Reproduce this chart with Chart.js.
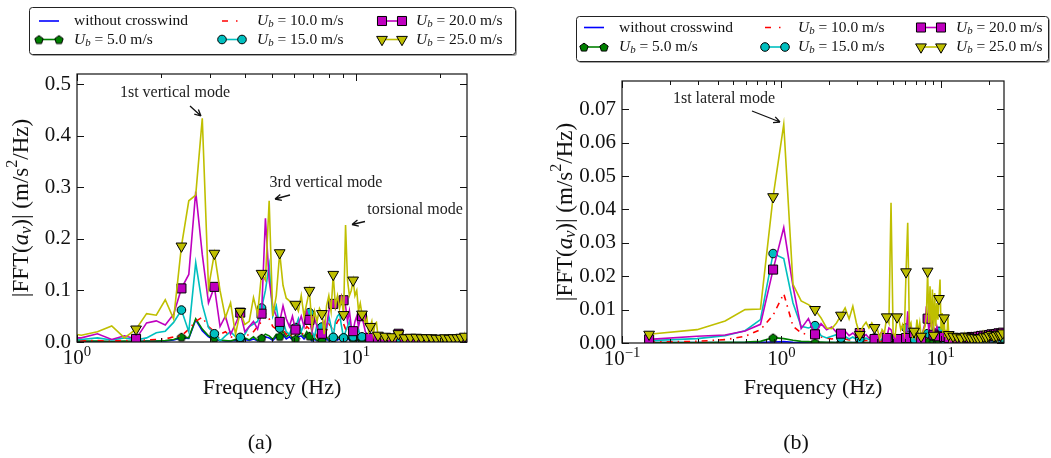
<!DOCTYPE html>
<html>
<head>
<meta charset="utf-8">
<title>FFT of car-body acceleration</title>
<script src="https://cdn.jsdelivr.net/npm/chart.js@4.4.1/dist/chart.umd.min.js"></script>
<style>
  html, body { margin: 0; padding: 0; background: #fff; }
  #wrap { position: relative; width: 1051px; height: 458px; }
  #wrap canvas { position: absolute; left: 0; top: 0; }
</style>
</head>
<body>
<div id="wrap">
  <canvas id="vert" width="1051" height="458"></canvas>
  <canvas id="lat" width="1051" height="458"></canvas>
</div>
<script>
// frequency resolution of the spectra (Hz); value k of a series sits at bin firstBin + k
const DF = 0.148;

const WIND_SPEEDS = [null, 5.0, 10.0, 15.0, 20.0, 25.0];

// (a) vertical acceleration, bins 6..169
const VERT_FIRST_BIN = 6;
const VERT_NONE = [
  0.001,0.001,0.001,0.001,0.001,0.001,0.002,0.002,0.002,0.004,
  0.008,0.007,0.043,0.022,0.010,0.006,0.003,0.002,0.002,0.003,
  0.002,0.005,0.003,0.006,0.002,0.005,0.010,0.008,0.003,0.010,
  0.007,0.014,0.006,0.010,0.005,0.004,0.010,0.012,0.006,0.014,
  0.008,0.002,0.005,0.002,0.004,0.001,0.004,0.006,0.002,0.006,
  0.006,0.008,0.004,0.006,0.003,0.006,0.005,0.006,0.004,0.008,
  0.004,0.005,0.003,0.002,0.004,0.002,0.002,0.001,0.002,0.001,
  0.001,0.001,0.002,0.001,0.001,0.001,0.001,0.002,0.001,0.001,
  0.001,0.001,0.001,0.001,0.002,0.001,0.001,0.001,0.001,0.001,
  0.001,0.002,0.001,0.001,0.001,0.001,0.001,0.001,0.002,0.001,
  0.001,0.001,0.001,0.001,0.001,0.002,0.001,0.001,0.001,0.001,
  0.001,0.001,0.001,0.002,0.001,0.001,0.001,0.001,0.001,0.001,
  0.002,0.001,0.001,0.001,0.001,0.001,0.001,0.002,0.001,0.001,
  0.001,0.001,0.001,0.001,0.002,0.001,0.001,0.001,0.001,0.001,
  0.001,0.002,0.001,0.001,0.001,0.001,0.001,0.001,0.002,0.001,
  0.001,0.001,0.001,0.001,0.001,0.002,0.001,0.001,0.001,0.001,
  0.001,0.001,0.002,0.001
];
const VERT_U5 = [
  0.002,0.002,0.002,0.001,0.002,0.001,0.002,0.002,0.003,0.005,
  0.010,0.008,0.045,0.025,0.012,0.008,0.004,0.003,0.002,0.005,
  0.004,0.008,0.004,0.010,0.003,0.008,0.015,0.012,0.005,0.015,
  0.011,0.020,0.010,0.015,0.008,0.006,0.014,0.018,0.010,0.020,
  0.012,0.004,0.008,0.003,0.006,0.002,0.006,0.010,0.004,0.009,
  0.009,0.012,0.007,0.010,0.005,0.009,0.008,0.010,0.006,0.012,
  0.006,0.008,0.005,0.004,0.006,0.003,0.004,0.002,0.003,0.002,
  0.002,0.001,0.002,0.001,0.001,0.002,0.001,0.001,0.001,0.001,
  0.001,0.001,0.002,0.001,0.001,0.001,0.001,0.001,0.002,0.001,
  0.001,0.001,0.001,0.001,0.001,0.002,0.001,0.001,0.001,0.001,
  0.001,0.001,0.001,0.002,0.001,0.001,0.001,0.001,0.001,0.001,
  0.002,0.001,0.001,0.001,0.001,0.001,0.001,0.001,0.002,0.001,
  0.001,0.001,0.001,0.001,0.001,0.001,0.002,0.001,0.001,0.001,
  0.001,0.001,0.001,0.001,0.002,0.001,0.001,0.001,0.001,0.001,
  0.001,0.002,0.001,0.001,0.001,0.001,0.001,0.001,0.001,0.002,
  0.001,0.001,0.001,0.001,0.001,0.001,0.002,0.001,0.001,0.001,
  0.001,0.001,0.001,0.002
];
const VERT_U10 = [
  0.002,0.002,0.003,0.002,0.003,0.003,0.004,0.005,0.006,0.010,
  0.012,0.025,0.040,0.048,0.030,0.020,0.015,0.020,0.010,0.008,
  0.006,0.010,0.015,0.020,0.030,0.040,0.055,0.045,0.030,0.025,
  0.030,0.025,0.015,0.020,0.010,0.015,0.020,0.012,0.020,0.030,
  0.025,0.015,0.020,0.010,0.030,0.025,0.015,0.020,0.035,0.030,
  0.020,0.030,0.040,0.045,0.050,0.035,0.025,0.030,0.020,0.025,
  0.015,0.010,0.015,0.008,0.012,0.006,0.005,0.004,0.003,0.004,
  0.003,0.002,0.003,0.002,0.002,0.002,0.001,0.002,0.001,0.002,
  0.002,0.001,0.001,0.002,0.001,0.001,0.002,0.001,0.001,0.001,
  0.002,0.001,0.001,0.001,0.002,0.001,0.001,0.001,0.001,0.002,
  0.001,0.001,0.001,0.002,0.001,0.001,0.001,0.001,0.002,0.001,
  0.001,0.001,0.002,0.001,0.001,0.001,0.001,0.002,0.001,0.001,
  0.001,0.002,0.001,0.001,0.001,0.001,0.002,0.001,0.001,0.001,
  0.002,0.001,0.001,0.001,0.001,0.002,0.001,0.001,0.001,0.002,
  0.001,0.001,0.001,0.001,0.002,0.001,0.001,0.001,0.002,0.001,
  0.001,0.001,0.001,0.002,0.001,0.001,0.001,0.002,0.001,0.001,
  0.001,0.002,0.001,0.001
];
const VERT_U15 = [
  0.005,0.005,0.008,0.004,0.008,0.004,0.008,0.018,0.021,0.038,
  0.062,0.020,0.154,0.073,0.028,0.016,0.002,0.012,0.020,0.010,
  0.009,0.015,0.030,0.035,0.040,0.066,0.100,0.149,0.050,0.070,
  0.027,0.040,0.020,0.015,0.030,0.028,0.045,0.020,0.035,0.040,
  0.057,0.020,0.010,0.035,0.020,0.029,0.010,0.025,0.050,0.030,
  0.009,0.040,0.050,0.055,0.030,0.008,0.020,0.030,0.040,0.020,
  0.010,0.020,0.015,0.025,0.010,0.010,0.008,0.012,0.006,0.008,
  0.006,0.004,0.003,0.004,0.002,0.003,0.002,0.003,0.002,0.002,
  0.003,0.002,0.002,0.001,0.002,0.003,0.002,0.001,0.002,0.002,
  0.003,0.002,0.001,0.002,0.001,0.002,0.001,0.002,0.001,0.002,
  0.002,0.001,0.002,0.001,0.001,0.002,0.001,0.002,0.001,0.001,
  0.002,0.001,0.001,0.002,0.001,0.002,0.001,0.001,0.002,0.001,
  0.002,0.001,0.001,0.002,0.001,0.001,0.002,0.001,0.001,0.002,
  0.001,0.001,0.002,0.001,0.001,0.002,0.001,0.001,0.002,0.001,
  0.001,0.002,0.001,0.001,0.002,0.001,0.001,0.002,0.001,0.001,
  0.002,0.001,0.001,0.002,0.001,0.001,0.002,0.001,0.001,0.002,
  0.001,0.001,0.002,0.001
];
const VERT_U20 = [
  0.008,0.008,0.016,0.005,0.012,0.006,0.037,0.041,0.033,0.054,
  0.104,0.131,0.292,0.170,0.076,0.107,0.030,0.050,0.015,0.035,
  0.057,0.020,0.030,0.040,0.025,0.055,0.240,0.120,0.070,0.050,
  0.039,0.070,0.045,0.030,0.050,0.024,0.035,0.050,0.030,0.060,
  0.043,0.020,0.045,0.030,0.015,0.016,0.040,0.030,0.060,0.075,
  0.074,0.065,0.085,0.070,0.090,0.081,0.070,0.040,0.060,0.030,
  0.021,0.040,0.050,0.030,0.045,0.050,0.035,0.020,0.015,0.010,
  0.008,0.006,0.005,0.007,0.004,0.005,0.003,0.004,0.003,0.005,
  0.006,0.003,0.004,0.002,0.003,0.006,0.004,0.003,0.005,0.008,
  0.016,0.006,0.004,0.003,0.002,0.005,0.003,0.002,0.003,0.002,
  0.005,0.002,0.003,0.002,0.003,0.004,0.002,0.003,0.002,0.003,
  0.005,0.002,0.003,0.002,0.002,0.004,0.002,0.003,0.002,0.003,
  0.004,0.002,0.003,0.002,0.002,0.004,0.002,0.003,0.002,0.003,
  0.003,0.003,0.002,0.003,0.002,0.004,0.002,0.002,0.003,0.002,
  0.004,0.002,0.003,0.002,0.002,0.005,0.002,0.003,0.002,0.003,
  0.004,0.002,0.003,0.002,0.003,0.005,0.002,0.003,0.002,0.003,
  0.005,0.003,0.002,0.003
];
const VERT_U25 = [
  0.020,0.013,0.020,0.031,0.008,0.025,0.055,0.052,0.082,0.045,
  0.186,0.274,0.285,0.434,0.105,0.172,0.100,0.047,0.076,0.015,
  0.059,0.034,0.040,0.086,0.054,0.133,0.120,0.274,0.050,0.090,
  0.173,0.110,0.085,0.080,0.070,0.073,0.060,0.090,0.050,0.075,
  0.100,0.030,0.060,0.040,0.065,0.055,0.015,0.070,0.090,0.060,
  0.131,0.070,0.090,0.065,0.085,0.053,0.227,0.120,0.090,0.100,
  0.120,0.090,0.100,0.060,0.075,0.054,0.050,0.035,0.045,0.020,
  0.030,0.040,0.015,0.035,0.038,0.013,0.008,0.010,0.006,0.009,
  0.011,0.007,0.005,0.008,0.006,0.010,0.006,0.004,0.007,0.010,
  0.016,0.009,0.006,0.005,0.007,0.008,0.004,0.006,0.005,0.004,
  0.009,0.005,0.008,0.006,0.004,0.009,0.005,0.006,0.004,0.005,
  0.008,0.005,0.004,0.006,0.003,0.008,0.004,0.006,0.005,0.003,
  0.008,0.004,0.005,0.003,0.004,0.007,0.003,0.005,0.004,0.006,
  0.007,0.003,0.005,0.004,0.003,0.008,0.004,0.003,0.005,0.004,
  0.007,0.003,0.004,0.005,0.003,0.008,0.005,0.003,0.004,0.006,
  0.008,0.003,0.005,0.004,0.006,0.009,0.004,0.007,0.005,0.006,
  0.011,0.006,0.005,0.007
];

// (b) lateral acceleration, bins 1..169
const LAT_FIRST_BIN = 1;
const LAT_NONE = [
  0.0001,0.0001,0.0001,0.0001,0.0002,0.0003,0.0004,0.0002,0.0001,0.0001,
  0.0001,0.0001,0.0001,0.0001,0.0001,0.0001,0.0001,0.0001,0.0001,0.0001,
  0.0001,0.0001,0.0001,0.0001,0.0001,0.0001,0.0001,0.0001,0.0001,0.0001,
  0.0001,0.0001,0.0002,0.0001,0.0001,0.0001,0.0001,0.0001,0.0001,0.0001,
  0.0002,0.0002,0.0001,0.0001,0.0001,0.0001,0.0001,0.0001,0.0001,0.0001,
  0.0001,0.0001,0.0001,0.0002,0.0002,0.0002,0.0001,0.0002,0.0001,0.0002,
  0.0001,0.0002,0.0001,0.0002,0.0001,0.0001,0.0002,0.0001,0.0001,0.0001,
  0.0001,0.0001,0.0001,0.0001,0.0001,0.0001,0.0001,0.0001,0.0001,0.0001,
  0.0001,0.0001,0.0001,0.0001,0.0001,0.0001,0.0001,0.0001,0.0001,0.0001,
  0.0001,0.0001,0.0001,0.0001,0.0001,0.0001,0.0001,0.0001,0.0001,0.0001,
  0.0001,0.0001,0.0001,0.0001,0.0001,0.0001,0.0001,0.0001,0.0001,0.0001,
  0.0001,0.0001,0.0001,0.0001,0.0001,0.0001,0.0001,0.0001,0.0001,0.0001,
  0.0001,0.0001,0.0001,0.0001,0.0001,0.0001,0.0001,0.0001,0.0001,0.0001,
  0.0001,0.0001,0.0001,0.0001,0.0001,0.0001,0.0001,0.0001,0.0001,0.0001,
  0.0001,0.0001,0.0001,0.0001,0.0001,0.0001,0.0001,0.0001,0.0001,0.0001,
  0.0001,0.0001,0.0001,0.0001,0.0001,0.0001,0.0001,0.0001,0.0001,0.0001,
  0.0001,0.0001,0.0001,0.0001,0.0001,0.0001,0.0001,0.0001,0.0001
];
const LAT_U5 = [
  0.0001,0.0001,0.0002,0.0003,0.0005,0.0016,0.0013,0.0008,0.0005,0.0004,
  0.0002,0.0003,0.0002,0.0002,0.0001,0.0002,0.0001,0.0002,0.0001,0.0001,
  0.0001,0.0002,0.0001,0.0001,0.0002,0.0001,0.0001,0.0001,0.0002,0.0001,
  0.0002,0.0002,0.0003,0.0001,0.0001,0.0002,0.0001,0.0001,0.0002,0.0002,
  0.0003,0.0004,0.0002,0.0002,0.0001,0.0001,0.0002,0.0001,0.0001,0.0002,
  0.0001,0.0002,0.0002,0.0003,0.0004,0.0003,0.0002,0.0004,0.0003,0.0005,
  0.0003,0.0003,0.0002,0.0004,0.0003,0.0003,0.0004,0.0002,0.0002,0.0001,
  0.0001,0.0001,0.0002,0.0001,0.0001,0.0001,0.0001,0.0001,0.0001,0.0001,
  0.0001,0.0001,0.0002,0.0001,0.0001,0.0001,0.0001,0.0001,0.0001,0.0001,
  0.0001,0.0001,0.0001,0.0001,0.0001,0.0002,0.0001,0.0001,0.0001,0.0001,
  0.0001,0.0001,0.0001,0.0001,0.0001,0.0001,0.0001,0.0002,0.0001,0.0001,
  0.0001,0.0001,0.0001,0.0001,0.0001,0.0001,0.0001,0.0001,0.0001,0.0002,
  0.0001,0.0001,0.0001,0.0001,0.0001,0.0001,0.0001,0.0001,0.0001,0.0001,
  0.0002,0.0001,0.0001,0.0001,0.0001,0.0001,0.0001,0.0001,0.0001,0.0001,
  0.0001,0.0001,0.0001,0.0002,0.0001,0.0001,0.0001,0.0001,0.0001,0.0001,
  0.0001,0.0001,0.0001,0.0001,0.0001,0.0001,0.0002,0.0001,0.0001,0.0001,
  0.0001,0.0001,0.0001,0.0001,0.0001,0.0001,0.0001,0.0002,0.0001
];
const LAT_U10 = [
  0.0003,0.0005,0.0010,0.0020,0.0040,0.0083,0.0148,0.0050,0.0030,0.0025,
  0.0020,0.0018,0.0015,0.0012,0.0014,0.0010,0.0012,0.0009,0.0010,0.0008,
  0.0009,0.0007,0.0008,0.0006,0.0008,0.0007,0.0006,0.0005,0.0007,0.0006,
  0.0008,0.0010,0.0012,0.0008,0.0006,0.0007,0.0005,0.0006,0.0008,0.0012,
  0.0018,0.0020,0.0010,0.0012,0.0008,0.0006,0.0005,0.0007,0.0006,0.0008,
  0.0006,0.0009,0.0012,0.0015,0.0020,0.0018,0.0012,0.0016,0.0014,0.0022,
  0.0012,0.0015,0.0012,0.0020,0.0014,0.0016,0.0018,0.0010,0.0008,0.0007,
  0.0006,0.0005,0.0006,0.0004,0.0005,0.0004,0.0004,0.0003,0.0004,0.0003,
  0.0003,0.0004,0.0003,0.0002,0.0003,0.0004,0.0003,0.0003,0.0002,0.0003,
  0.0004,0.0003,0.0002,0.0003,0.0003,0.0004,0.0003,0.0002,0.0003,0.0003,
  0.0004,0.0003,0.0003,0.0002,0.0003,0.0005,0.0003,0.0003,0.0004,0.0003,
  0.0004,0.0003,0.0003,0.0004,0.0003,0.0005,0.0004,0.0003,0.0004,0.0003,
  0.0005,0.0004,0.0003,0.0004,0.0003,0.0005,0.0004,0.0003,0.0004,0.0004,
  0.0005,0.0004,0.0003,0.0004,0.0004,0.0006,0.0004,0.0004,0.0005,0.0004,
  0.0006,0.0004,0.0004,0.0005,0.0004,0.0006,0.0005,0.0004,0.0005,0.0004,
  0.0006,0.0005,0.0004,0.0005,0.0005,0.0007,0.0005,0.0004,0.0005,0.0005,
  0.0007,0.0005,0.0005,0.0006,0.0005,0.0007,0.0005,0.0005,0.0006
];
const LAT_U15 = [
  0.0007,0.0013,0.0022,0.0037,0.0070,0.0268,0.0253,0.0120,0.0050,0.0045,
  0.0052,0.0022,0.0015,0.0020,0.0025,0.0015,0.0020,0.0012,0.0018,0.0010,
  0.0012,0.0008,0.0015,0.0010,0.0012,0.0015,0.0010,0.0008,0.0012,0.0010,
  0.0015,0.0020,0.0025,0.0012,0.0010,0.0008,0.0012,0.0010,0.0015,0.0030,
  0.0045,0.0050,0.0020,0.0025,0.0015,0.0012,0.0010,0.0015,0.0010,0.0012,
  0.0010,0.0015,0.0020,0.0025,0.0030,0.0028,0.0020,0.0035,0.0025,0.0040,
  0.0020,0.0030,0.0025,0.0045,0.0030,0.0035,0.0040,0.0020,0.0015,0.0012,
  0.0010,0.0008,0.0010,0.0006,0.0008,0.0006,0.0005,0.0006,0.0005,0.0005,
  0.0006,0.0005,0.0007,0.0004,0.0006,0.0008,0.0005,0.0006,0.0004,0.0005,
  0.0007,0.0005,0.0004,0.0006,0.0005,0.0008,0.0006,0.0005,0.0004,0.0006,
  0.0007,0.0005,0.0006,0.0004,0.0005,0.0009,0.0006,0.0005,0.0007,0.0005,
  0.0008,0.0006,0.0005,0.0007,0.0006,0.0010,0.0006,0.0007,0.0005,0.0006,
  0.0009,0.0007,0.0005,0.0008,0.0006,0.0010,0.0007,0.0006,0.0008,0.0007,
  0.0011,0.0007,0.0006,0.0008,0.0007,0.0012,0.0008,0.0007,0.0009,0.0008,
  0.0012,0.0008,0.0007,0.0010,0.0008,0.0013,0.0009,0.0008,0.0010,0.0009,
  0.0013,0.0009,0.0008,0.0011,0.0009,0.0014,0.0010,0.0009,0.0011,0.0010,
  0.0014,0.0010,0.0009,0.0012,0.0010,0.0015,0.0011,0.0010,0.0012
];
const LAT_U20 = [
  0.0011,0.0020,0.0024,0.0036,0.0056,0.0220,0.0346,0.0170,0.0043,0.0073,
  0.0026,0.0058,0.0040,0.0048,0.0032,0.0028,0.0035,0.0022,0.0030,0.0020,
  0.0030,0.0018,0.0025,0.0015,0.0020,0.0012,0.0018,0.0025,0.0035,0.0030,
  0.0015,0.0045,0.0040,0.0020,0.0015,0.0012,0.0020,0.0015,0.0025,0.0020,
  0.0015,0.0095,0.0030,0.0045,0.0020,0.0030,0.0015,0.0035,0.0020,0.0025,
  0.0012,0.0030,0.0045,0.0060,0.0110,0.0073,0.0040,0.0060,0.0050,0.0105,
  0.0025,0.0040,0.0030,0.0050,0.0035,0.0020,0.0030,0.0025,0.0015,0.0020,
  0.0018,0.0012,0.0015,0.0010,0.0012,0.0015,0.0010,0.0008,0.0010,0.0008,
  0.0012,0.0008,0.0010,0.0007,0.0009,0.0014,0.0008,0.0010,0.0007,0.0009,
  0.0013,0.0008,0.0011,0.0007,0.0009,0.0016,0.0009,0.0011,0.0008,0.0010,
  0.0015,0.0009,0.0012,0.0008,0.0010,0.0018,0.0010,0.0012,0.0009,0.0011,
  0.0017,0.0011,0.0012,0.0009,0.0012,0.0019,0.0011,0.0013,0.0010,0.0012,
  0.0021,0.0011,0.0013,0.0010,0.0012,0.0022,0.0012,0.0015,0.0011,0.0013,
  0.0022,0.0013,0.0014,0.0011,0.0014,0.0024,0.0013,0.0016,0.0012,0.0014,
  0.0026,0.0014,0.0016,0.0013,0.0015,0.0025,0.0015,0.0018,0.0014,0.0016,
  0.0027,0.0016,0.0019,0.0015,0.0017,0.0029,0.0017,0.0019,0.0016,0.0018,
  0.0028,0.0018,0.0020,0.0017,0.0020,0.0031,0.0019,0.0021,0.0018
];
const LAT_U25 = [
  0.0026,0.0040,0.0066,0.0100,0.0102,0.0438,0.0655,0.0176,0.0126,0.0115,
  0.0100,0.0075,0.0045,0.0043,0.0060,0.0083,0.0105,0.0072,0.0110,0.0060,
  0.0025,0.0050,0.0062,0.0045,0.0060,0.0046,0.0045,0.0012,0.0040,0.0030,
  0.0078,0.0060,0.0420,0.0030,0.0020,0.0078,0.0070,0.0040,0.0055,0.0030,
  0.0213,0.0360,0.0050,0.0060,0.0020,0.0035,0.0020,0.0070,0.0030,0.0060,
  0.0020,0.0030,0.0040,0.0050,0.0080,0.0215,0.0060,0.0170,0.0040,0.0160,
  0.0023,0.0150,0.0050,0.0120,0.0070,0.0133,0.0190,0.0040,0.0090,0.0030,
  0.0075,0.0020,0.0040,0.0010,0.0080,0.0025,0.0010,0.0020,0.0010,0.0015,
  0.0020,0.0012,0.0010,0.0015,0.0010,0.0018,0.0010,0.0012,0.0008,0.0010,
  0.0015,0.0010,0.0008,0.0012,0.0010,0.0020,0.0012,0.0010,0.0008,0.0010,
  0.0018,0.0010,0.0008,0.0012,0.0009,0.0015,0.0010,0.0008,0.0011,0.0009,
  0.0016,0.0010,0.0008,0.0012,0.0010,0.0014,0.0009,0.0011,0.0008,0.0010,
  0.0015,0.0010,0.0009,0.0012,0.0010,0.0020,0.0012,0.0010,0.0015,0.0012,
  0.0018,0.0012,0.0010,0.0014,0.0011,0.0022,0.0014,0.0012,0.0016,0.0013,
  0.0025,0.0015,0.0012,0.0018,0.0014,0.0020,0.0015,0.0013,0.0017,0.0014,
  0.0022,0.0016,0.0014,0.0018,0.0015,0.0026,0.0017,0.0015,0.0019,0.0016,
  0.0024,0.0018,0.0016,0.0020,0.0017,0.0030,0.0020,0.0018,0.0022
];

// axis tick labels: powers of ten on x, fixed-step labels on y
const VERT_X_DECADES = [0, 1];
const LAT_X_DECADES = [-1, 0, 1];

const FONT = '"Liberation Serif", "DejaVu Serif", serif';
const INK = '#111';

const SERIES_STYLE = [
  { color: '#0000ff' },
  { color: '#008000', marker: 'pentagon' },
  { color: '#ff0000', dash: [6, 5, 1.5, 5] },
  { color: '#00bfbf', marker: 'circle' },
  { color: '#bf00bf', marker: 'rect' },
  { color: '#bfbf00', marker: 'triangle' },
];
const MARKER_RADIUS = { pentagon: 4.5, circle: 4.3, rect: 6.4, triangle: 6.2 };

function pentagonImage(fill) {
  const c = document.createElement('canvas');
  c.width = 12; c.height = 12;
  const g = c.getContext('2d');
  g.beginPath();
  for (let i = 0; i < 5; i++) {
    const a = -Math.PI / 2 + (i * 2 * Math.PI) / 5;
    const px = 6 + 4.4 * Math.cos(a), py = 6.5 + 4.4 * Math.sin(a);
    if (i) g.lineTo(px, py); else g.moveTo(px, py);
  }
  g.closePath();
  g.fillStyle = fill; g.fill();
  g.lineWidth = 1; g.strokeStyle = '#000'; g.stroke();
  return c;
}
const PENTAGON = pentagonImage(SERIES_STYLE[1].color);

function drawMarker(ctx, kind, x, y, color) {
  const r = MARKER_RADIUS[kind];
  if (kind === 'pentagon') { ctx.drawImage(PENTAGON, x - 6, y - 6); return; }
  ctx.beginPath();
  if (kind === 'circle') ctx.arc(x, y, r, 0, Math.PI * 2);
  else if (kind === 'rect') { const h = r * Math.SQRT1_2; ctx.rect(x - h, y - h, 2 * h, 2 * h); }
  else {
    const s = r * Math.sin(Math.PI / 3);
    ctx.moveTo(x, y + r); ctx.lineTo(x - s, y - r / 2); ctx.lineTo(x + s, y - r / 2); ctx.closePath();
  }
  ctx.fillStyle = color; ctx.fill();
  ctx.lineWidth = 1; ctx.strokeStyle = '#000'; ctx.stroke();
}

// text with italic / sub / superscript runs: parts = [[text, kind], ...]
function drawRich(ctx, parts, x, y, size, align) {
  const runs = parts.map(([t, k]) => {
    const small = k === 'is' || k === 'sup';
    const font = `${k === 'i' || k === 'is' ? 'italic ' : ''}${small ? size * 0.7 : size}px ${FONT}`;
    ctx.font = font;
    const dy = k === 'is' ? size * 0.22 : k === 'sup' ? -size * 0.4 : 0;
    return { t, font, dy, w: ctx.measureText(t).width };
  });
  const total = runs.reduce((s, r) => s + r.w, 0);
  let cx = align === 'center' ? x - total / 2 : align === 'right' ? x - total : x;
  ctx.textAlign = 'left';
  runs.forEach((r) => { ctx.font = r.font; ctx.fillText(r.t, cx, y + r.dy); cx += r.w; });
}

function legendParts(k) {
  if (WIND_SPEEDS[k] === null) return [['without crosswind', '']];
  return [['U', 'i'], ['b', 'is'], [` = ${WIND_SPEEDS[k].toFixed(1)} m/s`, '']];
}

const YLABEL = [['|FFT(', ''], ['a', 'i'], ['v', 'is'], [')| (m/s', ''], ['2', 'sup'], ['/Hz)', '']];

function drawLegend(ctx, L) {
  const [bx, by, bw, bh] = L.box;
  ctx.save();
  ctx.fillStyle = 'rgba(0,0,0,0.35)';
  ctx.beginPath(); ctx.roundRect(bx + 2, by + 2, bw, bh, 3); ctx.fill();
  ctx.fillStyle = '#fff'; ctx.strokeStyle = '#222'; ctx.lineWidth = 1;
  ctx.beginPath(); ctx.roundRect(bx + 0.5, by + 0.5, bw, bh, 3); ctx.fill(); ctx.stroke();
  ctx.textBaseline = 'middle';
  L.cols.forEach((col, c) => {
    L.rows.forEach((ry, r) => {
      const k = c * 2 + r;
      const st = SERIES_STYLE[k];
      ctx.save();
      ctx.strokeStyle = st.color; ctx.lineWidth = 1.6;
      ctx.setLineDash(st.dash ? [6, 8, 1.5, 8] : []);
      ctx.beginPath(); ctx.moveTo(col.s0, ry); ctx.lineTo(col.s1, ry); ctx.stroke();
      ctx.restore();
      if (st.marker) {
        drawMarker(ctx, st.marker, col.s0, ry, st.color);
        drawMarker(ctx, st.marker, col.s1, ry, st.color);
      }
      ctx.fillStyle = INK;
      drawRich(ctx, legendParts(k), col.tx, ry, 15.5, 'left');
    });
  });
  ctx.restore();
}

function drawArrow(ctx, from, to) {
  const ang = Math.atan2(to[1] - from[1], to[0] - from[0]);
  ctx.beginPath();
  ctx.moveTo(from[0], from[1]); ctx.lineTo(to[0], to[1]);
  [-0.45, 0.45].forEach((d) => {
    ctx.moveTo(to[0], to[1]);
    ctx.lineTo(to[0] - 7 * Math.cos(ang + d), to[1] - 7 * Math.sin(ang + d));
  });
  ctx.stroke();
}

const decor = {
  id: 'decor',
  afterDraw(chart) {
    const cfg = chart.options.plugins.decor;
    const { ctx, chartArea: a, scales: { x, y } } = chart;
    ctx.save();

    // inward ticks on all four sides, then the frame
    ctx.strokeStyle = INK; ctx.lineWidth = 1;
    ctx.beginPath();
    const e0 = Math.floor(Math.log10(cfg.xMin)), e1 = Math.ceil(Math.log10(cfg.xMax));
    for (let e = e0; e <= e1; e++) {
      for (let m = 1; m <= 9; m++) {
        const v = m * Math.pow(10, e);
        if (v < cfg.xMin * 0.999 || v > cfg.xMax * 1.001) continue;
        const px = Math.round(x.getPixelForValue(v)) + 0.5;
        const len = m === 1 ? 7 : 4;
        ctx.moveTo(px, a.bottom); ctx.lineTo(px, a.bottom - len);
        ctx.moveTo(px, a.top); ctx.lineTo(px, a.top + len);
      }
    }
    y.ticks.forEach((t) => {
      const py = Math.round(y.getPixelForValue(t.value)) + 0.5;
      ctx.moveTo(a.left, py); ctx.lineTo(a.left + 7, py);
      ctx.moveTo(a.right, py); ctx.lineTo(a.right - 7, py);
    });
    ctx.stroke();
    ctx.lineWidth = 1.2;
    ctx.strokeRect(a.left, a.top, a.right - a.left, a.bottom - a.top);

    // x tick labels as powers of ten
    ctx.fillStyle = INK;
    ctx.textBaseline = 'alphabetic';
    cfg.decades.forEach((e) => {
      const px = x.getPixelForValue(Math.pow(10, e));
      drawRich(ctx, [['10', ''], [e < 0 ? '\u2212' + -e : String(e), 'sup']], px, a.bottom + 22, 21, 'center');
    });

    // axis titles and panel tag
    ctx.font = `22px ${FONT}`;
    ctx.textAlign = 'center';
    ctx.fillText('Frequency (Hz)', (a.left + a.right) / 2, 394);
    ctx.textBaseline = 'middle';
    ctx.fillText(cfg.tag.text, cfg.tag.x, cfg.tag.y);
    ctx.save();
    ctx.translate(cfg.ylabelX, (a.top + a.bottom) / 2);
    ctx.rotate(-Math.PI / 2);
    drawRich(ctx, YLABEL, 0, 0, 23, 'center');
    ctx.restore();

    // mode annotations
    ctx.fillStyle = '#222'; ctx.strokeStyle = '#111'; ctx.lineWidth = 1.3;
    cfg.notes.forEach((n) => {
      ctx.font = `16px ${FONT}`;
      ctx.textAlign = 'center';
      ctx.fillText(n.text, n.x, n.y);
      drawArrow(ctx, n.from, n.to);
    });

    drawLegend(ctx, cfg.legend);
    ctx.restore();
  },
};

function panel(id, cfg) {
  const datasets = cfg.series.map((vals, k) => {
    const st = SERIES_STYLE[k];
    const r = st.marker ? MARKER_RADIUS[st.marker] : 0;
    return {
      label: legendParts(k).map((p) => p[0]).join(''),
      data: vals.map((v, i) => ({ x: (cfg.firstBin + i) * DF, y: v })),
      borderColor: st.color,
      borderWidth: 1.6,
      borderDash: st.dash || [],
      pointStyle: st.marker === 'pentagon' ? PENTAGON : st.marker || 'circle',
      pointRotation: st.marker === 'triangle' ? 180 : 0,
      // one marker every fifth bin
      pointRadius: (c) => ((cfg.firstBin + c.dataIndex) % 5 === 1 ? r : 0),
      pointBackgroundColor: st.color,
      pointBorderColor: '#000',
      pointBorderWidth: 1,
      order: SERIES_STYLE.length - k,
      tension: 0,
    };
  });

  return new Chart(document.getElementById(id), {
    type: 'line',
    data: { datasets },
    plugins: [decor],
    options: {
      responsive: false,
      animation: false,
      events: [],
      layout: { padding: { left: cfg.padLeft, top: cfg.area.top, right: 1051 - cfg.area.right, bottom: 0 } },
      plugins: {
        legend: { display: false },
        tooltip: { enabled: false },
        decor: cfg,
      },
      scales: {
        x: {
          type: 'logarithmic',
          min: cfg.xMin,
          max: cfg.xMax,
          ticks: { display: false },
          grid: { display: false, drawTicks: false },
          border: { display: false },
          afterFit: (s) => { s.height = 458 - cfg.area.bottom; },
        },
        y: {
          min: 0,
          max: cfg.yMax,
          ticks: {
            stepSize: cfg.yStep,
            includeBounds: false,
            padding: 6,
            color: INK,
            font: { family: FONT, size: 21 },
            callback: (v) => v.toFixed(cfg.yDigits),
          },
          grid: { display: false, drawTicks: false },
          border: { display: false },
          afterFit: (s) => { s.width = cfg.area.left - cfg.padLeft; },
        },
      },
    },
  });
}

panel('vert', {
  series: [VERT_NONE, VERT_U5, VERT_U10, VERT_U15, VERT_U20, VERT_U25],
  firstBin: VERT_FIRST_BIN,
  area: { left: 77, top: 74, right: 467, bottom: 342 },
  padLeft: 0,
  xMin: 1, xMax: 25, decades: VERT_X_DECADES,
  yMax: 0.52, yStep: 0.1, yDigits: 1,
  ylabelX: 22,
  tag: { text: '(a)', x: 260, y: 443 },
  legend: {
    box: [29, 7, 486, 47],
    rows: [21, 39.5],
    cols: [{ s0: 39, s1: 59, tx: 74 }, { s0: 222, s1: 242, tx: 257 }, { s0: 382, s1: 402, tx: 416 }],
  },
  notes: [
    { text: '1st vertical mode', x: 175, y: 93, from: [190, 106], to: [201, 116] },
    { text: '3rd vertical mode', x: 326, y: 183, from: [290, 195], to: [275, 199] },
    { text: 'torsional mode', x: 415, y: 210, from: [365, 221.5], to: [352, 224.5] },
  ],
});

panel('lat', {
  series: [LAT_NONE, LAT_U5, LAT_U10, LAT_U15, LAT_U20, LAT_U25],
  firstBin: LAT_FIRST_BIN,
  area: { left: 622, top: 81, right: 1004, bottom: 343 },
  padLeft: 560,
  xMin: 0.1, xMax: 25, decades: LAT_X_DECADES,
  yMax: 0.0785, yStep: 0.01, yDigits: 2,
  ylabelX: 566,
  tag: { text: '(b)', x: 796, y: 443 },
  legend: {
    box: [576, 16, 472, 45],
    rows: [27.5, 47],
    cols: [{ s0: 584, s1: 604, tx: 619 }, { s0: 765, s1: 785, tx: 798 }, { s0: 921, s1: 941, tx: 956 }],
  },
  notes: [
    { text: '1st lateral mode', x: 724, y: 99, from: [752, 111], to: [780, 122] },
  ],
});
</script>
</body>
</html>
